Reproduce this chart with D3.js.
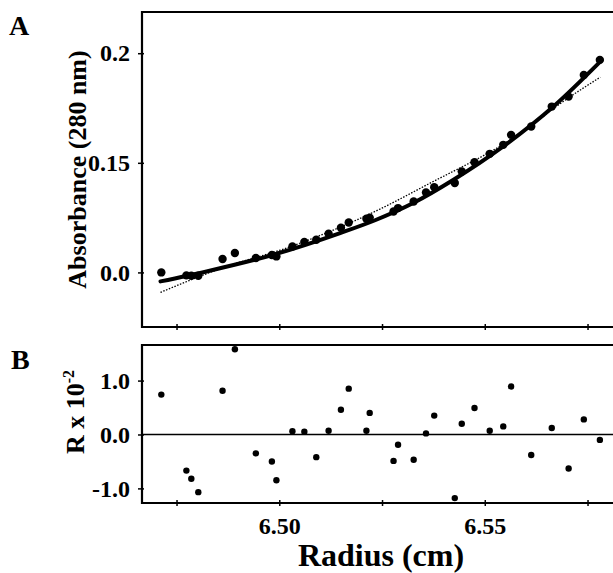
<!DOCTYPE html>
<html>
<head>
<meta charset="utf-8">
<script src="https://cdn.jsdelivr.net/npm/d3@7"></script>
<style>
  body { margin: 0; background: #fff; overflow: hidden; }
  svg text { font-family: "Liberation Serif", "Times New Roman", serif; font-weight: bold; fill: #000; }
</style>
</head>
<body>
<div id="graph"></div>
<script>
// radius of each scan point (cm), shared by both panels
var radius = [6.4713, 6.4774, 6.4786, 6.4803, 6.4862, 6.4892, 6.4943, 6.4982, 6.4993, 6.5032,
              6.5061, 6.5090, 6.5120, 6.5150, 6.5169, 6.5212, 6.5220, 6.5278, 6.5289, 6.5327,
              6.5357, 6.5377, 6.5427, 6.5444, 6.5475, 6.5512, 6.5545, 6.5564, 6.5613, 6.5663,
              6.5704, 6.5741, 6.5780];

// panel A: measured absorbance at 280 nm
var absorbance = [0.000, -0.0027, -0.0030, -0.0030, 0.0122, 0.0177, 0.0131, 0.0159, 0.0146, 0.0237,
                  0.0277, 0.0298, 0.0353, 0.0407, 0.0456, 0.0490, 0.0500, 0.0556, 0.0587, 0.0647,
                  0.0729, 0.0778, 0.0815, 0.0921, 0.1006, 0.1082, 0.1164, 0.1255, 0.1331, 0.1513,
                  0.1604, 0.1802, 0.1939];

// panel B: residuals (x 10^-2)
var residual = [0.74, -0.67, -0.82, -1.07, 0.81, 1.58, -0.35, -0.50, -0.85, 0.06,
                0.05, -0.42, 0.07, 0.46, 0.85, 0.07, 0.40, -0.49, -0.19, -0.47,
                0.02, 0.35, -1.18, 0.20, 0.49, 0.07, 0.15, 0.89, -0.38, 0.12,
                -0.63, 0.28, -0.10];

// solid fitted curve
var fitRadius = [6.4711, 6.4823, 6.4985, 6.5148, 6.5233, 6.5326, 6.5424, 6.5545, 6.5667, 6.5781];
var fitAbs    = [-0.0082, 0.0009, 0.0161, 0.0359, 0.0476, 0.0633, 0.0845, 0.1149, 0.1513, 0.1923];

// dotted curve
var altRadius = [6.4711, 6.4872, 6.5010, 6.5245, 6.5359, 6.5562, 6.5708, 6.5781];
var altAbs    = [-0.0182, 0.0055, 0.0213, 0.0578, 0.0799, 0.1210, 0.1604, 0.1781];

// tick values and the labels printed next to them
var radiusTicks = [6.475, 6.50, 6.525, 6.55, 6.575];
var radiusTickLabels = ["", "6.50", "", "6.55", ""];
var absTicks = [0, 0.1, 0.2];
var absTickLabels = ["0.0", "0.15", "0.2"];
var resTicks = [-1, 0, 1];
var resTickLabels = ["-1.0", "0.0", "1.0"];

var width = 613;
var height = 573;

var svg = d3.select('#graph')
    .append('svg')
    .attr('width', width)
    .attr('height', height);

// the frames run off the right edge of the picture
var left = 142, right = 620;
var topA = 12, bottomA = 327;
var topB = 345, bottomB = 503;

var xScale = d3.scaleLinear().domain([6.4666, 6.5829]).range([left, right]);
var yA = d3.scaleLinear().domain([-0.0498, 0.2376]).range([bottomA, topA]);
var yB = d3.scaleLinear().domain([-1.271, 1.66]).range([bottomB, topB]);

var points = radius.map(function(r, i) {
    return { r: r, a: absorbance[i], res: residual[i] };
});

// ---------- panel A ----------
var panelA = svg.append('g');

// dotted curve
panelA.append('path')
    .datum(altRadius.map(function(r, i) { return [r, altAbs[i]]; }))
    .attr('fill', 'none')
    .attr('stroke', '#000')
    .attr('stroke-width', 1.3)
    .attr('stroke-dasharray', '1.5,1.5')
    .attr('d', d3.line()
        .x(function(d) { return xScale(d[0]); })
        .y(function(d) { return yA(d[1]); })
        .curve(d3.curveMonotoneX));

// solid fit
panelA.append('path')
    .datum(fitRadius.map(function(r, i) { return [r, fitAbs[i]]; }))
    .attr('fill', 'none')
    .attr('stroke', '#000')
    .attr('stroke-width', 4)
    .attr('stroke-linecap', 'round')
    .attr('d', d3.line()
        .x(function(d) { return xScale(d[0]); })
        .y(function(d) { return yA(d[1]); })
        .curve(d3.curveMonotoneX));

panelA.selectAll('.dotA')
    .data(points)
    .enter()
    .append('circle')
    .attr('class', 'dotA')
    .attr('cx', function(d) { return xScale(d.r); })
    .attr('cy', function(d) { return yA(d.a); })
    .attr('r', 4.2)
    .attr('fill', '#000');

// frame
panelA.append('path')
    .attr('d', 'M' + right + ',' + topA + 'H' + left + 'V' + bottomA + 'H' + right)
    .attr('fill', 'none')
    .attr('stroke', '#000')
    .attr('stroke-width', 2.2);

var axisA = panelA.append('g')
    .attr('transform', 'translate(' + left + ',0)')
    .call(d3.axisLeft(yA)
        .tickValues(absTicks)
        .tickSize(4)
        .tickPadding(8)
        .tickFormat(function(d, i) { return absTickLabels[i]; }));
axisA.select('.domain').remove();
axisA.selectAll('.tick line').attr('x1', 2).attr('stroke-width', 1.5);
axisA.selectAll('.tick text').style('font-size', '24px');

var axisAx = panelA.append('g')
    .attr('transform', 'translate(0,' + bottomA + ')')
    .call(d3.axisBottom(xScale)
        .tickValues(radiusTicks)
        .tickSize(3)
        .tickFormat(''));
axisAx.select('.domain').remove();
axisAx.selectAll('.tick line').attr('y1', -3).attr('stroke-width', 1.5);

svg.append('text')
    .attr('transform', 'translate(86,' + (topA + bottomA) / 2 + ') rotate(-90)')
    .attr('text-anchor', 'middle')
    .style('font-size', '26px')
    .text('Absorbance (280 nm)');

svg.append('text')
    .attr('x', 9)
    .attr('y', 35)
    .style('font-size', '28px')
    .text('A');

// ---------- panel B ----------
var panelB = svg.append('g');

panelB.append('line')
    .attr('x1', left)
    .attr('x2', right)
    .attr('y1', yB(0))
    .attr('y2', yB(0))
    .attr('stroke', '#000')
    .attr('stroke-width', 1.5);

panelB.selectAll('.dotB')
    .data(points)
    .enter()
    .append('circle')
    .attr('class', 'dotB')
    .attr('cx', function(d) { return xScale(d.r); })
    .attr('cy', function(d) { return yB(d.res); })
    .attr('r', 3.2)
    .attr('fill', '#000');

panelB.append('path')
    .attr('d', 'M' + right + ',' + topB + 'H' + left + 'V' + bottomB + 'H' + right)
    .attr('fill', 'none')
    .attr('stroke', '#000')
    .attr('stroke-width', 2.2);

var axisB = panelB.append('g')
    .attr('transform', 'translate(' + left + ',0)')
    .call(d3.axisLeft(yB)
        .tickValues(resTicks)
        .tickSize(4)
        .tickPadding(8)
        .tickFormat(function(d, i) { return resTickLabels[i]; }));
axisB.select('.domain').remove();
axisB.selectAll('.tick line').attr('x1', 2).attr('stroke-width', 1.5);
axisB.selectAll('.tick text').style('font-size', '24px');

var axisBx = panelB.append('g')
    .attr('transform', 'translate(0,' + bottomB + ')')
    .call(d3.axisBottom(xScale)
        .tickValues(radiusTicks)
        .tickSize(3)
        .tickPadding(11)
        .tickFormat(function(d, i) { return radiusTickLabels[i]; }));
axisBx.select('.domain').remove();
axisBx.selectAll('.tick line').attr('y1', -3).attr('stroke-width', 1.5);
axisBx.selectAll('.tick text').style('font-size', '24px');

var rLabel = svg.append('text')
    .attr('transform', 'translate(84,' + 412 + ') rotate(-90)')
    .attr('text-anchor', 'middle')
    .style('font-size', '26px');
rLabel.append('tspan').text('R x 10');
rLabel.append('tspan')
    .attr('dy', -10)
    .style('font-size', '16px')
    .text('-2');

svg.append('text')
    .attr('x', 11)
    .attr('y', 369)
    .style('font-size', '28px')
    .text('B');

svg.append('text')
    .attr('x', 381)
    .attr('y', 566)
    .attr('text-anchor', 'middle')
    .style('font-size', '32px')
    .text('Radius (cm)');
</script>
</body>
</html>
